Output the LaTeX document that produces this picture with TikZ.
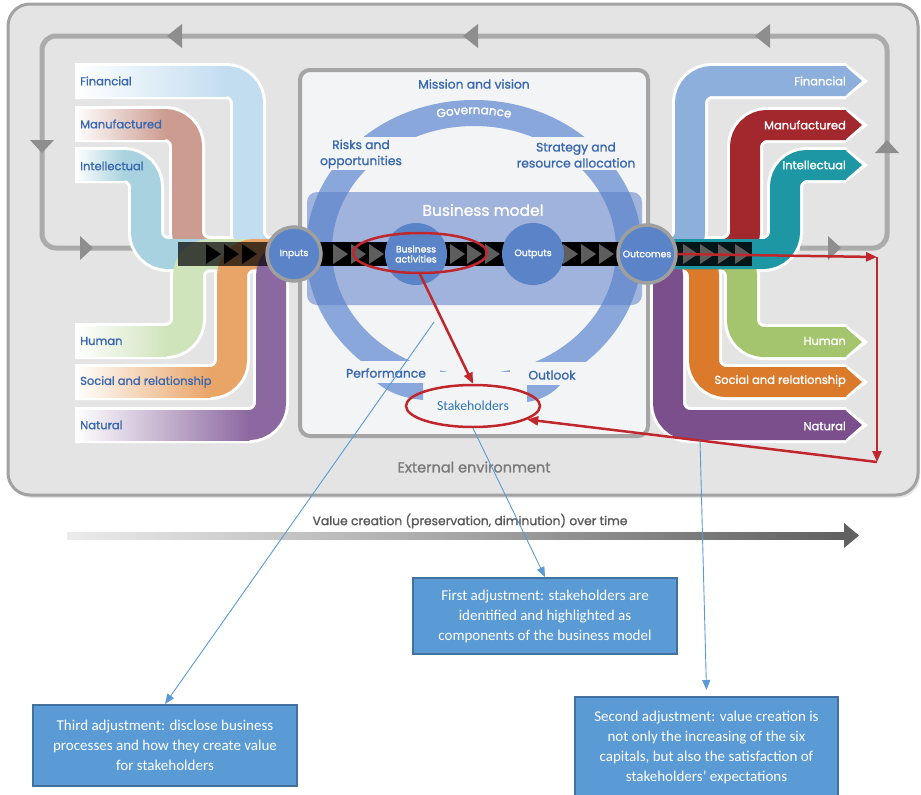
\documentclass[tikz,border=0pt]{standalone}
\usepackage{fontspec}
\setmainfont{Poppins}[FakeBold=1.3]
\newfontfamily\calib{Carlito}
\usetikzlibrary{arrows.meta,decorations.text,shapes.geometric}
\definecolor{bgouter}{HTML}{E4E4E4}
\definecolor{bgborder}{HTML}{A2A2A2}
\definecolor{loopc}{HTML}{ABABAB}
\definecolor{looptric}{HTML}{8E8E8E}
\definecolor{panelfill}{HTML}{F3F4F6}
\definecolor{panelborder}{HTML}{A5A5A5}
\definecolor{ringc}{HTML}{8AA7DB}
\definecolor{bmc}{HTML}{5A7FC8}
\definecolor{circc}{HTML}{5B84C8}
\definecolor{txtblue}{HTML}{3A68B0}
\definecolor{stakec}{HTML}{2E75B6}
\definecolor{redc}{HTML}{C0272D}
\definecolor{callc}{HTML}{5B9BD5}
\definecolor{boxfill}{HTML}{5B9BD5}
\definecolor{boxdraw}{HTML}{41719C}
\definecolor{lFin}{HTML}{C2DDF0}
\definecolor{lMan}{HTML}{CC9C90}
\definecolor{lInt}{HTML}{A8D2DF}
\definecolor{lHum}{HTML}{D0E4BC}
\definecolor{lSoc}{HTML}{E9A468}
\definecolor{lNat}{HTML}{8C68A0}
\definecolor{rFin}{HTML}{8DAFDC}
\definecolor{rMan}{HTML}{A2282D}
\definecolor{rInt}{HTML}{1E97A4}
\definecolor{rHum}{HTML}{A4C46D}
\definecolor{rSoc}{HTML}{DC7A2B}
\definecolor{rNat}{HTML}{7A4F8C}
\definecolor{greytxt}{HTML}{7A7A7A}
\definecolor{chevc}{HTML}{5E5E5E}
\tikzset{
 bandout/.style={draw=white, line width=36pt, rounded corners=22pt},
 band/.style={line width=30pt, rounded corners=22pt},
 looptri/.style={fill=looptric},
 lbl/.style={anchor=west, text=txtblue, font=\fontsize{11.5}{13}\selectfont, inner sep=0pt},
 rlbl/.style={anchor=east, text=white, font=\fontsize{11.5}{13}\selectfont, inner sep=0pt},
 ringseg/.style={draw=ringc, line width=26pt},
 erase/.style={fill=panelfill},
 chev/.style={fill=chevc},
 chevd/.style={fill=black},
 stage/.style={circle, fill=circc, text=white, align=center, inner sep=0pt, font=\fontsize{9.3}{10}\selectfont},
 redline/.style={draw=redc, line width=2.5pt},
 redarrow/.style={redline, -{Triangle[length=11pt,width=9pt]}},
 callout/.style={draw=callc, line width=0.9pt, -{Triangle[length=10pt,width=8pt]}},
 adjbox/.style={rectangle, fill=boxfill, draw=boxdraw, line width=2pt, text=white, align=center, font=\calib\fontsize{15}{20}\selectfont, inner sep=0pt},
 bluetxt/.style={text=txtblue, align=center, font=\fontsize{12.3}{16}\selectfont},
}
\begin{document}
\begin{tikzpicture}[x=1pt,y=-1pt]
\useasboundingbox (0,0) rectangle (921,795);
% outer environment
\fill[gray!40, opacity=.5, rounded corners=22pt] (10,7) rectangle (920,498);
\draw[fill=bgouter, draw=bgborder, line width=3pt, rounded corners=22pt] (8,4) rectangle (918,495);
% loop
\draw[draw=loopc, line width=5pt, rounded corners=14pt] (140,248) -- (42,248) -- (42,36) -- (887,36) -- (887,248) -- (800,248);
\fill[looptri] (167,36) -- (182,24) -- (182,48) -- cycle;
\fill[looptri] (463,36) -- (478,24) -- (478,48) -- cycle;
\fill[looptri] (755,36) -- (770,24) -- (770,48) -- cycle;
\fill[looptri] (42,153) -- (30,140) -- (54,140) -- cycle;
\fill[looptri] (93,248) -- (80,236) -- (80,260) -- cycle;
\fill[looptri] (887,140) -- (875,153) -- (899,153) -- cycle;
\fill[looptri] (841,248) -- (828,236) -- (828,260) -- cycle;
% central panel
\draw[fill=panelfill, draw=panelborder, line width=4pt, rounded corners=10pt] (300,70) rectangle (648,436);
% ring
\draw[ringseg] (474,250) ellipse [x radius=155, y radius=137];
\fill[erase] (303,137) rectangle (425,170);
\fill[erase] (525,137) rectangle (645,170);
\fill[erase] (303,361) rectangle (440,383);
\fill[erase] (510,362) rectangle (645,385);
\fill[erase] (423,372) rectangle (527,412);
\fill[ringc] (377,383) -- (423,383) -- (423,400) .. controls (402,398) and (388,392) .. cycle;
\fill[ringc] (527,385) -- (560,385) .. controls (552,394) and (541,400) .. (527,402) -- cycle;
\path[decorate, decoration={text along path, text align=center, text={|\fontsize{12}{12}\selectfont\color{white}|Governance}}] (403.6,129.9) arc[start angle=-118, end angle=-62, x radius=150, y radius=136];
% business model rect
\fill[bmc, opacity=.55, rounded corners=10pt] (307,192) rectangle (642,305);
% left capitals: outlines
\draw[bandout] (75,81) -- (248,81) -- (248,254) -- (300,254);
\draw[bandout] (75,124) -- (187,124) -- (187,254) -- (300,254);
\draw[bandout] (75,165) -- (146,165) -- (146,254) -- (300,254);
\draw[bandout] (75,341) -- (188,341) -- (188,254) -- (300,254);
\draw[bandout] (75,382) -- (232,382) -- (232,254) -- (300,254);
\draw[bandout] (75,425) -- (271,425) -- (271,254) -- (300,254);
% left capitals: colours
\draw[band, draw=lFin] (75,81) -- (248,81) -- (248,254) -- (300,254);
\draw[band, draw=lMan] (75,124) -- (187,124) -- (187,254) -- (300,254);
\draw[band, draw=lInt] (75,165) -- (146,165) -- (146,254) -- (300,254);
\draw[band, draw=lHum] (75,341) -- (188,341) -- (188,254) -- (300,254);
\draw[band, draw=lSoc] (75,382) -- (232,382) -- (232,254) -- (300,254);
\draw[band, draw=lNat] (75,425) -- (271,425) -- (271,254) -- (300,254);
\shade[left color=white, right color=lFin] (75,66) rectangle (226.5,96);
\shade[left color=white, right color=lMan] (75,109) rectangle (165.5,139);
\shade[left color=white, right color=lInt] (75,150) rectangle (124.5,180);
\shade[left color=white, right color=lHum] (75,326) rectangle (166.5,356);
\shade[left color=white, right color=lSoc] (75,367) rectangle (210.5,397);
\shade[left color=white, right color=lNat] (75,410) rectangle (249.5,440);
% right capitals: outlines
\draw[bandout] (640,254) -- (690,254) -- (690,81) -- (846,81);
\draw[bandout] (640,254) -- (745,254) -- (745,125) -- (846,125);
\draw[bandout] (640,254) -- (785,254) -- (785,165) -- (846,165);
\draw[bandout] (640,254) -- (742,254) -- (742,342) -- (846,342);
\draw[bandout] (640,254) -- (704,254) -- (704,382) -- (846,382);
\draw[bandout] (640,254) -- (668,254) -- (668,425) -- (846,425);
\foreach \yy in {81,125,165,342,382,425}{\fill[white] (845,\yy-18) -- (868,\yy) -- (845,\yy+18) -- cycle;}
% right capitals: colours
\draw[band, draw=rNat] (640,254) -- (668,254) -- (668,425) -- (846,425);
\draw[band, draw=rSoc] (640,254) -- (704,254) -- (704,382) -- (846,382);
\draw[band, draw=rHum] (640,254) -- (742,254) -- (742,342) -- (846,342);
\draw[band, draw=rFin] (640,254) -- (690,254) -- (690,81) -- (846,81);
\draw[band, draw=rMan] (640,254) -- (745,254) -- (745,125) -- (846,125);
\draw[band, draw=rInt] (640,254) -- (785,254) -- (785,165) -- (846,165);
\fill[rFin] (845,66) -- (862,81) -- (845,96) -- cycle;
\fill[rMan] (845,110) -- (862,125) -- (845,140) -- cycle;
\fill[rInt] (845,150) -- (862,165) -- (845,180) -- cycle;
\fill[rHum] (845,327) -- (862,342) -- (845,357) -- cycle;
\fill[rSoc] (845,367) -- (862,382) -- (845,397) -- cycle;
\fill[rNat] (845,410) -- (862,425) -- (845,440) -- cycle;
% black flow band
\fill[black, opacity=.7] (178,242) rectangle (268,266);
\fill[black] (268,242) rectangle (650,266);
\fill[black, opacity=.85] (650,242) rectangle (752,266);
\foreach \xx in {206,224,242}{\fill[chevd] (\xx,244) -- (\xx+15,254) -- (\xx,264) -- cycle;}
\foreach \xx in {333,351,369,450,467,485,563,581,599,683,700,718,735}{\fill[chev] (\xx,244) -- (\xx+15,254) -- (\xx,264) -- cycle;}
% stages
\node[stage, minimum size=54pt, draw=gray!75, line width=3.5pt] (inputs) at (294,254) {Inputs};
\node[stage, minimum size=62pt] (ba) at (416,254) {Business\\activities};
\node[stage, minimum size=62pt] (outputs) at (533,254) {Outputs};
\node[stage, minimum size=58pt, draw=gray!75, line width=3.5pt] (outcomes) at (647,254) {Outcomes};
% labels
\node[lbl] (lfin) at (80,81) {Financial};
\node[lbl] (lman) at (80,124) {Manufactured};
\node[lbl] (lint) at (80,166) {Intellectual};
\node[lbl] (lhum) at (80,341) {Human};
\node[lbl] (lsoc) at (80,382) {Social and relationship};
\node[lbl] (lnat) at (80,425) {Natural};
\node[rlbl] (rfin) at (846,81) {Financial};
\node[rlbl] (rman) at (846,125) {Manufactured};
\node[rlbl] (rint) at (846,165) {Intellectual};
\node[rlbl] (rhum) at (846,341) {Human};
\node[rlbl] (rsoc) at (846,381) {Social and relationship};
\node[rlbl] (rnat) at (846,426) {Natural};
\node[bluetxt] (mission) at (474,84) {Mission and vision};
\node[bluetxt] (risks) at (361,154) {Risks and\\opportunities};
\node[bluetxt] (strategy) at (576,155) {Strategy and\\resource allocation};
\node[text=white, font=\fontsize{15.5}{18}\selectfont] (bm) at (483,210) {Business model};
\node[bluetxt] (perf) at (386,373) {Performance};
\node[bluetxt] (outlook) at (552,375) {Outlook};
\node[text=greytxt, font=\fontsize{14.5}{18}\selectfont] (ext) at (474,467) {External environment};
% value creation arrow
\shade[left color=gray!15, right color=gray!75!black] (67,532) rectangle (846,539);
\fill[gray!75!black] (844,523) -- (859,535.5) -- (844,548) -- cycle;
\node[text=gray!70!black, font=\fontsize{12.3}{14}\selectfont] (vc) at (470,521) {Value creation (preservation, diminution) over time};
% red highlights
\node[ellipse, redline, minimum width=134pt, minimum height=40pt] (baell) at (420,253) {};
\node[ellipse, redline, minimum width=134pt, minimum height=42pt, text=stakec, font=\calib\fontsize{13.8}{15}\selectfont] (stake) at (473,406) {Stakeholders};
\draw[redarrow] (baell.south) -- (stake.north);
\coordinate (r1) at (877,257);
\coordinate (r2) at (877,462);
\draw[redarrow] (outcomes.east) -- (r1);
\draw[redarrow] (r1) -- (r2);
\draw[redarrow] (r2) -- (stake.-14);
% adjustment boxes
\node[adjbox, minimum width=264pt, minimum height=76pt] (first) at (545,616) {First adjustment: stakeholders are\\identified and highlighted as\\components of the business model};
\node[adjbox, minimum width=263pt, minimum height=100pt] (second) at (706.5,747) {Second adjustment: value creation is\\not only the increasing of the six\\capitals, but also the satisfaction of\\stakeholders’ expectations};
\node[adjbox, minimum width=264pt, minimum height=81pt] (third) at (165,745.5) {Third adjustment: disclose business\\processes and how they create value\\for stakeholders};
% callouts
\coordinate (c3) at (434,322);
\coordinate (c2) at (700,440);
\draw[callout] (c3) -- (third.north);
\draw[callout] (stake.south) -- (first.north);
\draw[callout] (c2) -- ([yshift=6pt]second.north);
\end{tikzpicture}
\end{document}
